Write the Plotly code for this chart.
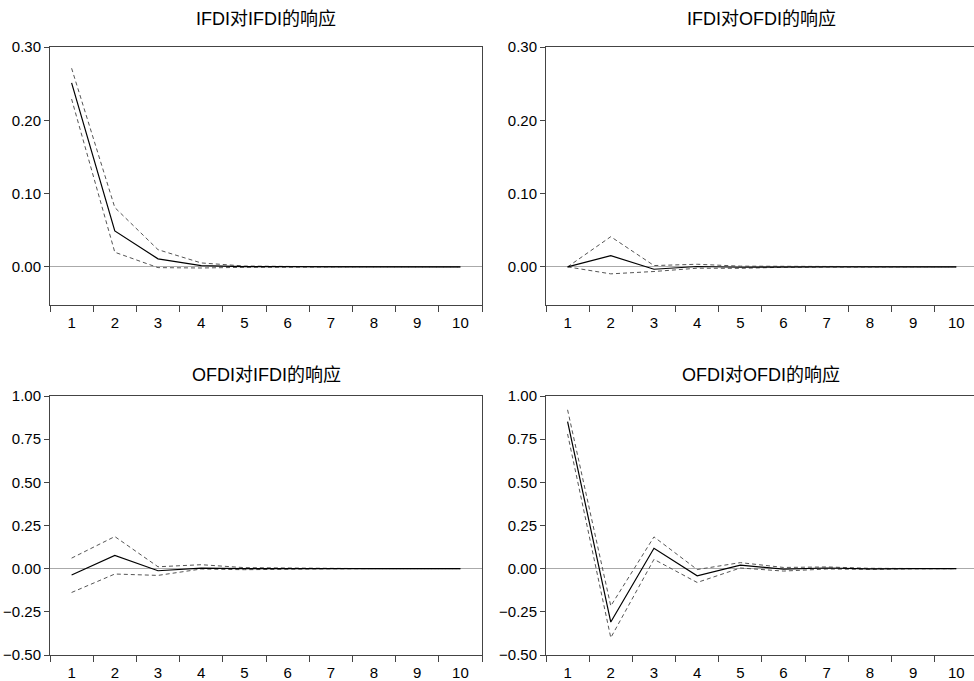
import plotly.graph_objects as go

periods = ["1", "2", "3", "4", "5", "6", "7", "8", "9", "10"]

titles = ["IFDI对IFDI的响应", "IFDI对OFDI的响应", "OFDI对IFDI的响应", "OFDI对OFDI的响应"]

ifdi_ifdi = [0.251, 0.049, 0.011, 0.0018, 0.0003, 0.0001, 0.0, 0.0, 0.0, 0.0]
ifdi_ifdi_upper = [0.271, 0.081, 0.0235, 0.0054, 0.0012, 0.0003, 0.0001, 0.0, 0.0, 0.0]
ifdi_ifdi_lower = [0.229, 0.020, -0.001, -0.0015, -0.0006, -0.0002, -0.0001, 0.0, 0.0, 0.0]

ifdi_ofdi = [0.0, 0.0154, -0.0032, 0.0005, -0.0005, 0.0002, 0.0, 0.0, 0.0, 0.0]
ifdi_ofdi_upper = [0.0, 0.0412, 0.0018, 0.0036, 0.0010, 0.0008, 0.0002, 0.0001, 0.0, 0.0]
ifdi_ofdi_lower = [0.0, -0.0095, -0.0063, -0.0018, -0.0020, -0.0005, -0.0002, -0.0001, 0.0, 0.0]

ofdi_ifdi = [-0.037, 0.077, -0.012, 0.003, 0.0, 0.001, 0.0, 0.0, 0.0, 0.0]
ofdi_ifdi_upper = [0.061, 0.186, 0.011, 0.023, 0.006, 0.003, 0.001, 0.0, 0.0, 0.0]
ofdi_ifdi_lower = [-0.138, -0.031, -0.039, -0.002, -0.006, -0.002, -0.001, 0.0, 0.0, 0.0]

ofdi_ofdi = [0.852, -0.309, 0.118, -0.041, 0.020, -0.003, 0.004, -0.001, 0.0, 0.0]
ofdi_ofdi_upper = [0.920, -0.216, 0.184, -0.005, 0.035, 0.007, 0.010, 0.002, 0.001, 0.0]
ofdi_ofdi_lower = [0.780, -0.400, 0.054, -0.080, 0.004, -0.014, -0.002, -0.004, -0.001, 0.0]

top_ticks = [0.0, 0.1, 0.2, 0.3]
bottom_ticks = [-0.5, -0.25, 0.0, 0.25, 0.5, 0.75, 1.0]

panels = [
    (ifdi_ifdi, ifdi_ifdi_upper, ifdi_ifdi_lower),
    (ifdi_ofdi, ifdi_ofdi_upper, ifdi_ofdi_lower),
    (ofdi_ifdi, ofdi_ifdi_upper, ofdi_ifdi_lower),
    (ofdi_ofdi, ofdi_ofdi_upper, ofdi_ofdi_lower),
]

W, H = 974, 681
xdom_left = [50 / W, 482 / W]
xdom_right = [546 / W, 1.0]
ydom_top = [1 - 305 / H, 1 - 47 / H]
ydom_bot = [1 - 655 / H, 1 - 396 / H]

doms = [
    (xdom_left, ydom_top, [-0.5, 9.5], [-0.052, 0.30], top_ticks),
    (xdom_right, ydom_top, [-0.5, 9.41], [-0.052, 0.30], top_ticks),
    (xdom_left, ydom_bot, [-0.5, 9.5], [-0.5, 1.0], bottom_ticks),
    (xdom_right, ydom_bot, [-0.5, 9.41], [-0.5, 1.0], bottom_ticks),
]

fig = go.Figure()
font = "Arial, Liberation Sans, Noto Sans CJK SC, sans-serif"

for i, ((mid, up, lo), (xd, yd, xr, yr, yt)) in enumerate(zip(panels, doms)):
    n = "" if i == 0 else str(i + 1)
    xa, ya = "x" + n, "y" + n
    for vals, dash, color, wd in ((up, "4px,3px", "#555555", 1), (lo, "4px,3px", "#555555", 1),
                                  (mid, "solid", "#000000", 1.2)):
        fig.add_trace(go.Scatter(x=periods, y=vals, mode="lines", xaxis=xa, yaxis=ya,
                                 line=dict(color=color, width=wd, dash=dash), showlegend=False,
                                 hoverinfo="skip", cliponaxis=True))
    fig.layout["xaxis" + n] = dict(
        domain=xd, anchor=ya, type="category", categoryorder="array", categoryarray=periods,
        range=xr, tickson="boundaries", ticks="outside", ticklen=6, tickcolor="#444444",
        showline=True, linecolor="#444444", linewidth=1, mirror=True, showgrid=False,
        automargin=False, zeroline=False, ticklabelstandoff=4,
        tickfont=dict(family=font, size=15, color="#000000"), fixedrange=True,
    )
    fig.layout["yaxis" + n] = dict(
        domain=yd, anchor=xa, range=yr, tickvals=yt, tickformat=".2f", ticks="outside",
        ticklen=5, tickcolor="#444444", showline=True, linecolor="#444444", linewidth=1,
        mirror=True, showgrid=False, zeroline=True, zerolinecolor="#aaaaaa", zerolinewidth=1,
        automargin=False,
        tickfont=dict(family=font, size=15, color="#000000"), fixedrange=True,
    )

title_pos = [(266 / W, 1 - 19 / H), (761 / W, 1 - 19 / H), (266 / W, 1 - 375 / H), (761 / W, 1 - 375 / H)]
for t, (tx, ty) in zip(titles, title_pos):
    fig.add_annotation(text=t, x=tx, y=ty, xref="paper", yref="paper", showarrow=False,
                       xanchor="center", yanchor="middle",
                       font=dict(family=font, size=18, color="#000000"))

fig.update_layout(template="none", width=W, height=H, margin=dict(l=0, r=0, t=0, b=0),
                  plot_bgcolor="white", paper_bgcolor="white")

fig.write_html("out.html", config={"displayModeBar": False},
               post_script="document.body.style.margin='0';document.body.style.overflow='hidden';")
